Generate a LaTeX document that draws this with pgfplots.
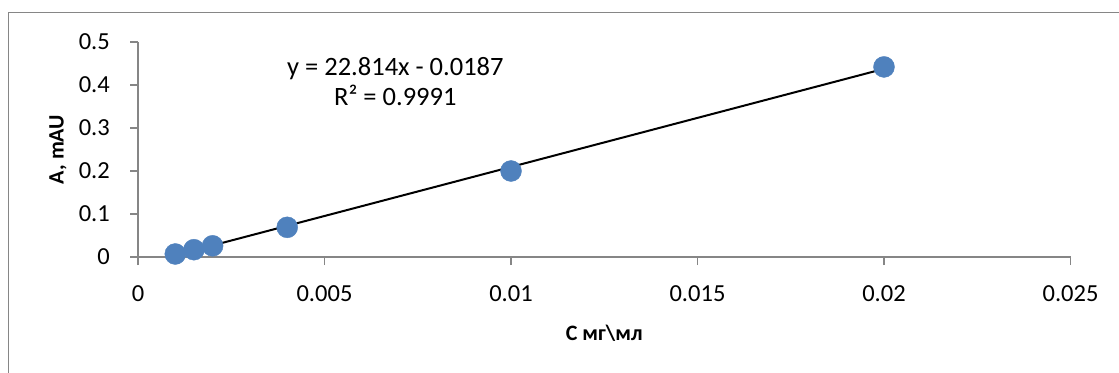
\documentclass[border=0pt]{standalone}
\usepackage{pgfplots}
\pgfplotsset{compat=1.18}
\usepackage{fontspec}
\setmainfont{Carlito}
\definecolor{axgray}{RGB}{134,134,134}
\definecolor{ptblue}{RGB}{79,129,189}
\begin{document}
\fontsize{24bp}{29bp}\selectfont
\begin{tikzpicture}
\useasboundingbox (0,0) rectangle (1119bp,373bp);
\draw[axgray, line width=1.5bp] (8.5bp,-5bp) -- (8.5bp,360.5bp) -- (1125bp,360.5bp);
\begin{axis}[
  at={(138bp,116bp)}, anchor=south west,
  scale only axis, width=932.5bp, height=215bp,
  xmin=0, xmax=0.025, ymin=0, ymax=0.5,
  clip=false,
  axis x line*=bottom, axis y line*=left,
  axis line style={axgray, line width=1.5bp},
  tick align=outside, major tick length=8bp,
  tick style={axgray, line width=1.5bp},
  xtick={0,0.005,0.01,0.015,0.02,0.025},
  xticklabels={0,0.005,0.01,0.015,0.02,0.025},
  ytick={0,0.1,0.2,0.3,0.4,0.5},
  yticklabels={0,0.1,0.2,0.3,0.4,0.5},
  scaled ticks=false,
  /pgf/number format/assume math mode=true,
  ticklabel style={font=\fontsize{24.5bp}{29bp}\selectfont, text=black},
  xticklabel style={yshift=-12bp},
  yticklabel style={xshift=-12bp},
  xlabel={\textbf{C мг\textbackslash мл}},
  ylabel={\textbf{A, mAU}},
  label style={font=\fontsize{22bp}{26bp}\selectfont},
  xlabel style={at={(axis description cs:0.5,0)}, anchor=center, yshift=-76bp},
  ylabel style={at={(axis description cs:0,0.5)}, anchor=center, rotate=0, yshift=80bp},
]
\addplot[only marks, mark=*, mark size=10.5bp, mark options={fill=ptblue, draw=ptblue}]
  coordinates {(0.001,0.007) (0.0015,0.017) (0.002,0.026) (0.004,0.069) (0.01,0.2) (0.02,0.442)};
\addplot[black, line width=2bp, no marks]
  coordinates {(0.001,0.0041) (0.02,0.4376)};
\node[align=center, font=\fontsize{26.5bp}{30bp}\selectfont] at (axis cs:0.0069,0.408) {y = 22.814x - 0.0187\\R² = 0.9991};
\end{axis}
\end{tikzpicture}
\end{document}
